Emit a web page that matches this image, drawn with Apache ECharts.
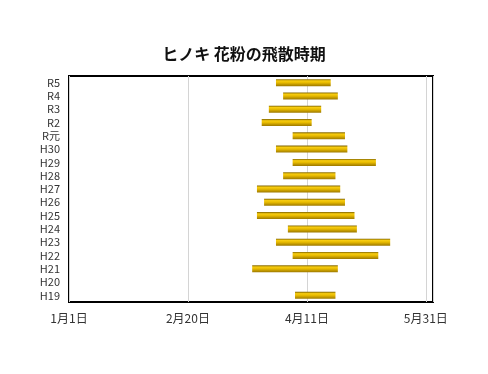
<!DOCTYPE html>
<html>
<head>
<meta charset="utf-8">
<script src="https://cdn.jsdelivr.net/npm/echarts@6/dist/echarts.min.js"></script>
<style>html,body{margin:0;padding:0;background:#fff;}#c{width:488px;height:374px;}</style>
</head>
<body>
<div id="c"></div>
<script>
// Categories bottom -> top
var categories = ['H19','H20','H21','H22','H23','H24','H25','H26','H27','H28','H29','H30','R元','R2','R3','R4','R5'];
// Start / end of pollen season, in days after January 1
var startDay = [95, null, 77, 94, 87, 92, 79, 82, 79, 90, 94, 87, 94, 81, 84, 90, 87];
var endDay   = [112, null, 113, 130, 135, 121, 120, 116, 114, 112, 129, 117, 116, 102, 106, 113, 110];
var xTickLabels = ['1月1日', '2月20日', '4月11日', '5月31日'];

var durations = startDay.map(function (s, i) { return s == null ? null : endDay[i] - s; });

var chart = echarts.init(document.getElementById('c'));
chart.setOption({
  backgroundColor: '#fff',
  animation: false,
  title: {
    text: 'ヒノキ 花粉の飛散時期',
    left: 'center',
    top: 41,
    textStyle: { fontFamily: 'Noto Sans CJK JP', fontSize: 16, fontWeight: 'bold', color: '#111' }
  },
  grid: {
    left: 69, right: 55, top: 76, bottom: 72,
    show: true, borderColor: '#000', borderWidth: 2, backgroundColor: 'transparent'
  },
  xAxis: {
    type: 'value',
    min: 0, max: 153, interval: 50,
    axisLine: { show: false },
    axisTick: { show: false },
    splitLine: { show: true, lineStyle: { color: '#d4d4d4', width: 1 } },
    axisLabel: {
      margin: 10,
      fontFamily: 'Noto Sans CJK JP', fontSize: 12, color: '#333',
      showMaxLabel: false,
      formatter: function (v) {
        if (v % 50 !== 0) return '';
        return xTickLabels[v / 50] || '';
      }
    }
  },
  yAxis: {
    type: 'category',
    data: categories,
    axisLine: { show: false },
    axisTick: { show: false },
    splitLine: { show: false },
    axisLabel: { interval: 0, margin: 9, fontFamily: 'Noto Sans CJK JP', fontSize: 11, color: '#333' }
  },
  series: [
    {
      type: 'bar', stack: 'a', data: startDay, barWidth: 7,
      itemStyle: { color: 'transparent' }, silent: true
    },
    {
      type: 'bar', stack: 'a', data: durations, barWidth: 7,
      itemStyle: {
        color: new echarts.graphic.LinearGradient(0, 0, 0, 1, [
          { offset: 0, color: '#806400' },
          { offset: 0.25, color: '#f7cc10' },
          { offset: 0.5, color: '#e8bb00' },
          { offset: 1, color: '#9c7800' }
        ])
      }
    }
  ]
});
</script>
</body>
</html>
